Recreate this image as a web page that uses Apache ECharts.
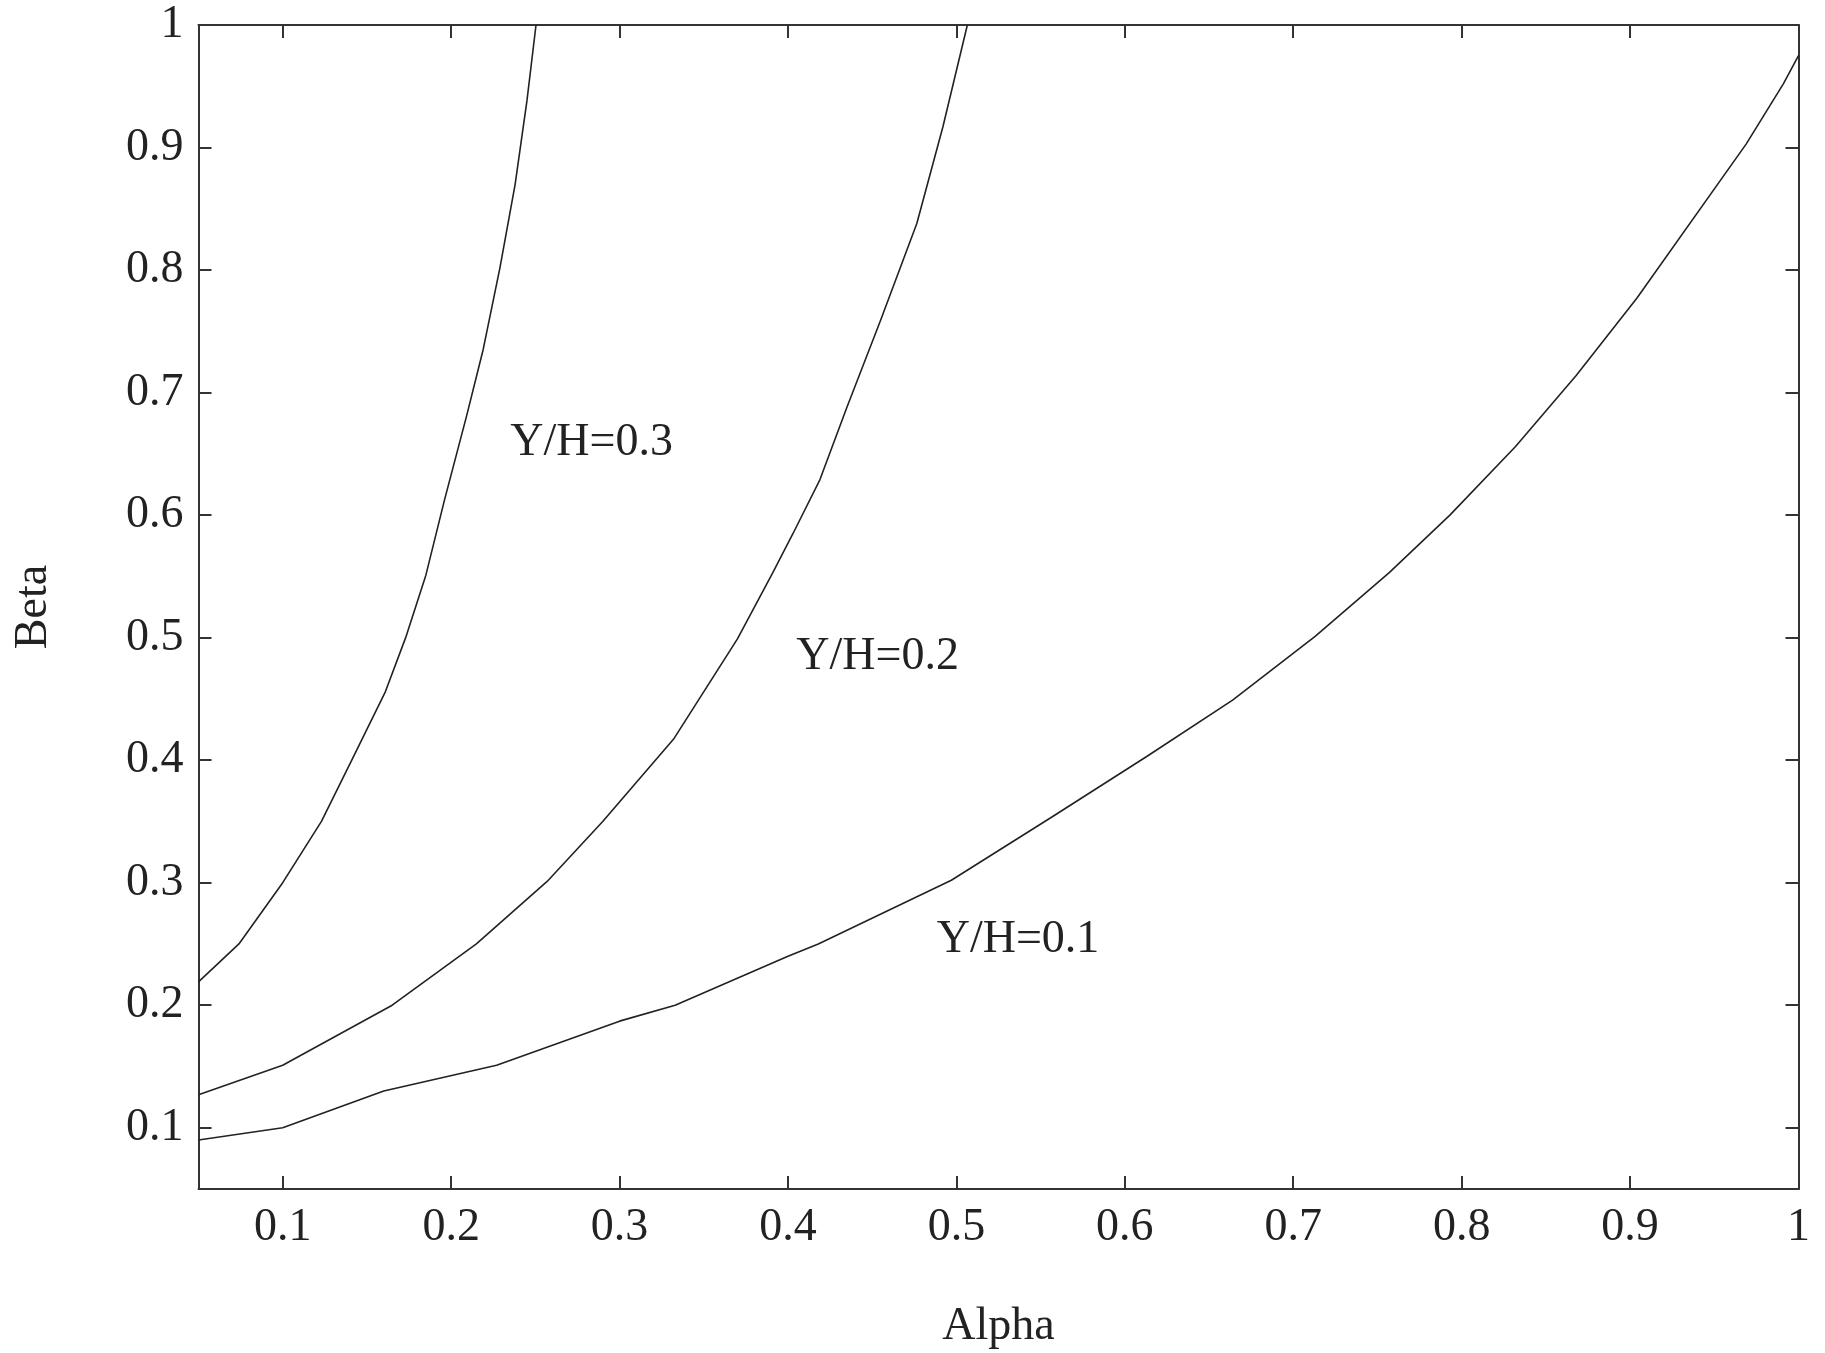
<!DOCTYPE html>
<html>
<head>
<meta charset="utf-8">
<script src="https://cdn.jsdelivr.net/npm/echarts@6/dist/echarts.min.js"></script>
<style>
html,body{margin:0;padding:0;background:#fff;}
#chart{width:1825px;height:1353px;}
</style>
</head>
<body>
<div id="chart"></div>
<script>
// Tick values
const xTicks = [0.1,0.2,0.3,0.4,0.5,0.6,0.7,0.8,0.9,1];
const yTicks = [0.1,0.2,0.3,0.4,0.5,0.6,0.7,0.8,0.9,1];

// Curves: [alpha, beta]
const curve03 = [[0.05,0.219],[0.074,0.25],[0.1,0.3],[0.123,0.35],[0.141,0.4],[0.161,0.456],[0.173,0.5],[0.185,0.551],[0.196,0.612],[0.209,0.68],[0.219,0.735],[0.229,0.802],[0.238,0.87],[0.245,0.938],[0.2504,1.0]];
const curve02 = [[0.05,0.127],[0.1,0.151],[0.165,0.2],[0.215,0.25],[0.257,0.301],[0.29,0.35],[0.332,0.417],[0.37,0.499],[0.391,0.553],[0.403,0.585],[0.419,0.629],[0.435,0.688],[0.455,0.759],[0.4765,0.838],[0.492,0.917],[0.5065,1.0]];
const curve01 = [[0.05,0.09],[0.1,0.1],[0.16,0.13],[0.227,0.151],[0.3,0.187],[0.333,0.2],[0.4,0.24],[0.418,0.25],[0.497,0.302],[0.556,0.353],[0.613,0.403],[0.664,0.449],[0.713,0.501],[0.757,0.553],[0.793,0.6],[0.832,0.656],[0.868,0.714],[0.904,0.777],[0.969,0.903],[0.991,0.952],[1.0,0.975]];

const curveNames = ['Y/H=0.3','Y/H=0.2','Y/H=0.1'];

const FONT = 'Liberation Serif';
const FS = 46;
const AX = '#333';
const chart = echarts.init(document.getElementById('chart'));

function xAxisCfg(pos, labels){
  return {
    type:'value', position:pos, min:0.05, max:1,
    axisLine:{show:true, onZero:false, lineStyle:{color:AX, width:2}},
    axisTick:{show:true, inside:true, length:13, customValues:xTicks, lineStyle:{color:AX, width:2}},
    axisLabel:{show:labels, customValues:xTicks, margin:16, color:'#222', fontFamily:FONT, fontSize:FS},
    splitLine:{show:false},
    name: labels ? 'Alpha' : '', nameLocation:'middle', nameGap:115,
    nameTextStyle:{color:'#222', fontFamily:FONT, fontSize:FS}
  };
}
function yAxisCfg(pos, labels){
  return {
    type:'value', position:pos, min:0.05, max:1,
    axisLine:{show:true, onZero:false, lineStyle:{color:AX, width:2}},
    axisTick:{show:true, inside:true, length:13, customValues:yTicks, lineStyle:{color:AX, width:2}},
    axisLabel:{show:labels, customValues:yTicks, margin:15, color:'#222', fontFamily:FONT, fontSize:FS},
    splitLine:{show:false},
    name: labels ? 'Beta' : '', nameLocation:'middle', nameGap:142, nameRotate:90,
    nameTextStyle:{color:'#222', fontFamily:FONT, fontSize:FS}
  };
}

function mk(data, name, coord){
  return {
    type:'line', name:name, data:data, showSymbol:false, smooth:false,
    xAxisIndex:0, yAxisIndex:0,
    lineStyle:{color:'#222', width:1.6}, silent:true, animation:false,
    markPoint:{
      symbol:'circle', symbolSize:0, silent:true, animation:false,
      data:[{coord:coord, label:{show:true, position:'inside', formatter:name, color:'#222', fontFamily:FONT, fontSize:FS}}]
    }
  };
}

chart.setOption({
  animation:false,
  backgroundColor:'#fff',
  grid:{left:198.5, right:26.5, top:25, bottom:164, containLabel:false, outerBoundsMode:'none'},
  xAxis:[xAxisCfg('bottom', true), xAxisCfg('top', false)],
  yAxis:[yAxisCfg('left', true), yAxisCfg('right', false)],
  series:[
    mk(curve03, curveNames[0], [0.2834, 0.659]),
    mk(curve02, curveNames[1], [0.4532, 0.484]),
    mk(curve01, curveNames[2], [0.5366, 0.253])
  ]
});
</script>
</body>
</html>
